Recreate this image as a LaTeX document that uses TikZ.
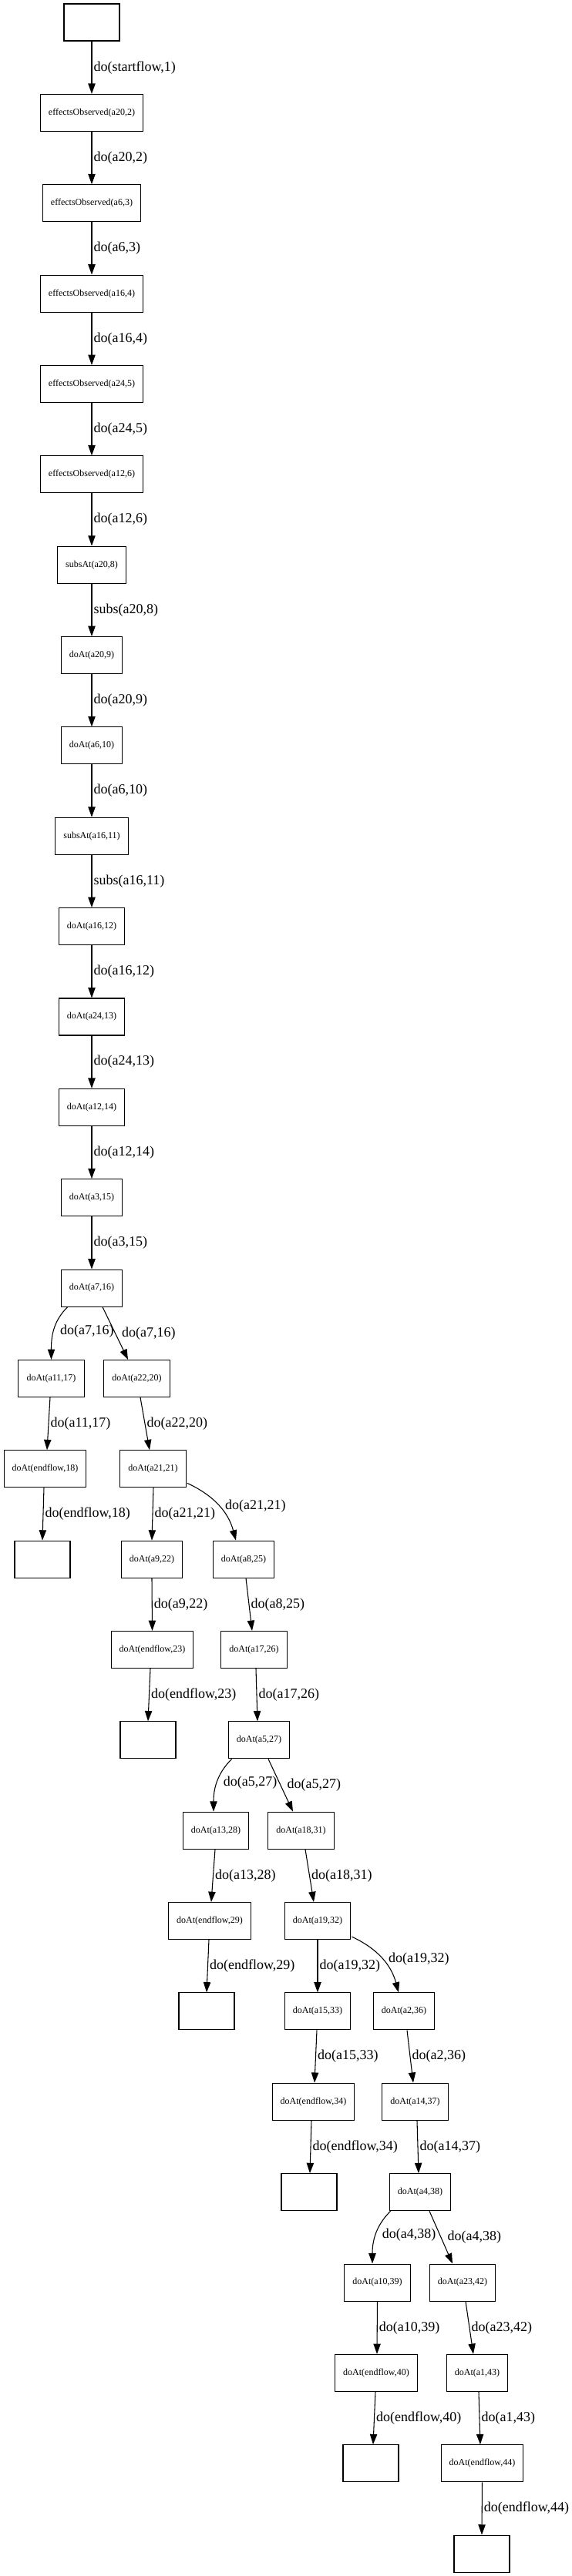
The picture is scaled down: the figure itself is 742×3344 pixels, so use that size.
\documentclass[tikz,border=0pt]{standalone}
\usepackage{fontspec}
\setmainfont{Liberation Serif}
\usetikzlibrary{calc,arrows.meta}
\tikzset{
  box/.style={draw=black, line width=0.8pt, rectangle, minimum width=54pt,
    minimum height=36pt, inner xsep=8pt, font=\fontsize{9}{10}\selectfont},
  flow/.style={draw=black, line width=0.8pt, -{Triangle[length=10pt,width=7pt]}},
  lab/.style={font=\fontsize{13.5}{15}\selectfont, anchor=west, inner xsep=1.5pt, inner ysep=1pt},
  labb/.style={lab, xshift=4.5pt},
}

\begin{document}
\begin{tikzpicture}[x=0.75pt,y=-0.75pt]
  \useasboundingbox (0,0) rectangle (742,3344);
  % states: name/x/rank/text
  \foreach \n/\x/\r/\txt in {
    n1/119/0/{}, n2/119/1/{effectsObserved(a20,2)}, n3/119/2/{effectsObserved(a6,3)},
    n4/119/3/{effectsObserved(a16,4)}, n5/119/4/{effectsObserved(a24,5)},
    n6/119/5/{effectsObserved(a12,6)}, n8/119/6/{subsAt(a20,8)}, n9/119/7/{doAt(a20,9)},
    n10/119/8/{doAt(a6,10)}, n11/119/9/{subsAt(a16,11)}, n12/119/10/{doAt(a16,12)},
    n13/119/11/{doAt(a24,13)}, n14/119/12/{doAt(a12,14)}, n15/119/13/{doAt(a3,15)},
    n16/119/14/{doAt(a7,16)},
    n17/66.5/15/{doAt(a11,17)}, n20/177.5/15/{doAt(a22,20)},
    n18/58.5/16/{doAt(endflow,18)}, n21/198.5/16/{doAt(a21,21)},
    e18/55/17/{}, n22/197/17/{doAt(a9,22)}, n25/316/17/{doAt(a8,25)},
    n23/197.5/18/{doAt(endflow,23)}, n26/329.5/18/{doAt(a17,26)},
    e23/192/19/{}, n27/336/19/{doAt(a5,27)},
    n28/280/20/{doAt(a13,28)}, n31/390.5/20/{doAt(a18,31)},
    n29/272/21/{doAt(endflow,29)}, n32/412/21/{doAt(a19,32)},
    e29/268/22/{}, n33/412/22/{doAt(a15,33)}, n36/524/22/{doAt(a2,36)},
    n34/406.5/23/{doAt(endflow,34)}, n37/538.5/23/{doAt(a14,37)},
    e34/401/24/{}, n38/545/24/{doAt(a4,38)},
    n39/489.5/25/{doAt(a10,39)}, n42/600/25/{doAt(a23,42)},
    n40/488/26/{doAt(endflow,40)}, n43/619/26/{doAt(a1,43)},
    e40/481/27/{}, n44/625.5/27/{doAt(endflow,44)},
    e44/625/28/{}}
    \node[box] (\n) at (\x,{29+117.36*\r}) {\txt};
  % straight edges: from/dx/to/dx/label
  \foreach \src/\sx/\dst/\dx/\txt in {
    n1/0/n2/0/{do(startflow,1)}, n2/0/n3/0/{do(a20,2)}, n3/0/n4/0/{do(a6,3)},
    n4/0/n5/0/{do(a16,4)}, n5/0/n6/0/{do(a24,5)}, n6/0/n8/0/{do(a12,6)},
    n8/0/n9/0/{subs(a20,8)}, n9/0/n10/0/{do(a20,9)}, n10/0/n11/0/{do(a6,10)},
    n11/0/n12/0/{subs(a16,11)}, n12/0/n13/0/{do(a16,12)}, n13/0/n14/0/{do(a24,13)},
    n14/0/n15/0/{do(a12,14)}, n15/0/n16/0/{do(a3,15)},
    n17/-1.5/n18/2.5/{do(a11,17)}, n18/-1.5/e18/0/{do(endflow,18)},
    n20/4.5/n21/-4.5/{do(a22,20)}, n21/0.5/n22/0/{do(a21,21)},
    n22/0/n23/0/{do(a9,22)}, n25/3/n26/-2.5/{do(a8,25)},
    n23/-2.5/e23/0/{do(endflow,23)}, n26/2.5/n27/-2/{do(a17,26)},
    n28/-1/n29/2/{do(a13,28)}, n31/5.5/n32/-5/{do(a18,31)},
    n29/-1/e29/0/{do(endflow,29)}, n32/0/n33/0/{do(a19,32)},
    n33/-1/n34/1.5/{do(a15,33)}, n36/4/n37/-2.5/{do(a2,36)},
    n34/-2.5/e34/1/{do(endflow,34)}, n37/2.5/n38/-2/{do(a14,37)},
    n39/0/n40/1/{do(a10,39)}, n42/4/n43/-5/{do(a23,42)},
    n40/-1/e40/3/{do(endflow,40)}, n43/2/n44/-2.5/{do(a1,43)},
    n44/0/e44/0/{do(endflow,44)}}
    \draw[flow] ($(\src.south)+(\sx,0)$) -- node[lab]{\txt} ($(\dst.north)+(\dx,0)$);
  % branches
  \foreach \src/\sx/\dst/\dx/\txt in {
    n16/14/n20/-11.5/{do(a7,16)}, n27/12/n31/-10.5/{do(a5,27)}, n38/12/n42/-13/{do(a4,38)}}
    \draw[flow] ($(\src.south)+(\sx,0)$) -- node[labb]{\txt} ($(\dst.north)+(\dx,0)$);
  \foreach \src/\sx/\dst/\dx/\txt in {
    n16/9/n17/0/{do(a7,16)}, n27/5/n28/-3/{do(a5,27)}, n38/2/n39/-6.5/{do(a4,38)}}
    \draw[flow] ($(\src.south west)+(\sx,0)$) to[out=225,in=90] node[labb]{\txt} ($(\dst.north)+(\dx,0)$);
  \foreach \src/\sy/\dst/\dx/\txt in {
    n21/-6/n25/-10/{do(a21,21)}, n32/-4/n36/-7/{do(a19,32)}}
    \draw[flow] ($(\src.south east)+(1,\sy)$) to[out=-25,in=105] node[labb]{\txt} ($(\dst.north)+(\dx,0)$);
\end{tikzpicture}
\end{document}
